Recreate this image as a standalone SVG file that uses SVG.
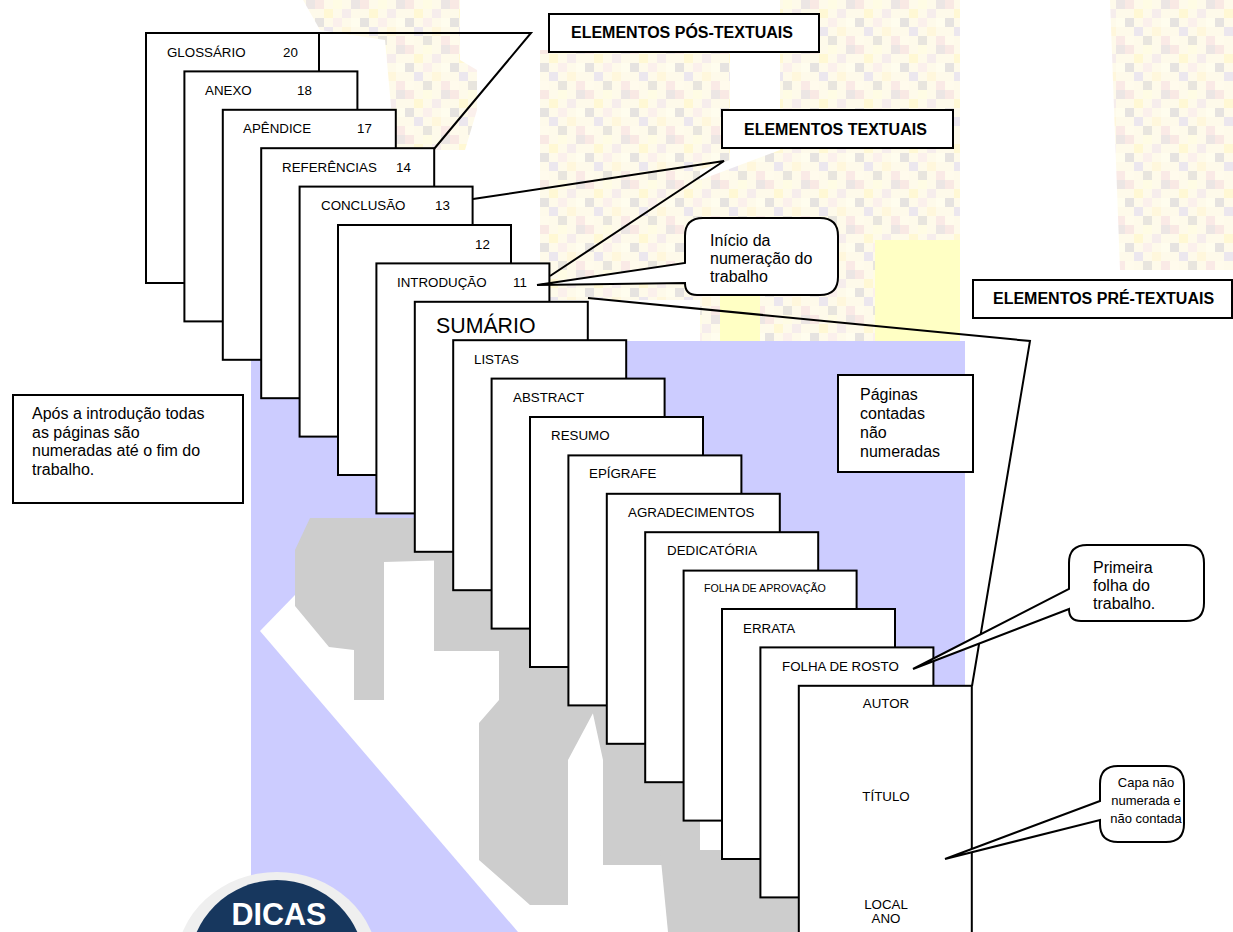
<svg xmlns="http://www.w3.org/2000/svg" width="1233" height="932" viewBox="0 0 1233 932">
<defs>
<style>
.pg{fill:#fff;stroke:#000;stroke-width:2}
.ln{fill:none;stroke:#000;stroke-width:2;stroke-linejoin:miter}
.box{fill:#fff;stroke:#000;stroke-width:2}
.gr{fill:#CDCDCD}
text{font-family:"Liberation Sans",Arial,sans-serif;fill:#000}
.t{font-size:13.33px}
.s{font-size:10.67px}
.b{font-size:21.33px}
.h{font-size:16px;font-weight:bold}
.c{font-size:16px}
.m{text-anchor:middle}
</style>
<pattern id="pix" width="45" height="45" patternUnits="userSpaceOnUse">
<rect width="45" height="45" fill="#FEFAEA"/>
<rect x="0" y="0" width="9" height="9" fill="#F9E9E4"/>
<rect x="18" y="0" width="9" height="9" fill="#FFFCE4"/>
<rect x="36" y="0" width="9" height="9" fill="#ECE6E4"/>
<rect x="9" y="9" width="9" height="9" fill="#FFF8D4"/>
<rect x="27" y="9" width="9" height="9" fill="#F6EDEC"/>
<rect x="0" y="18" width="9" height="9" fill="#E6E3E0"/>
<rect x="18" y="18" width="9" height="9" fill="#FBF0EC"/>
<rect x="36" y="18" width="9" height="9" fill="#FFFDEE"/>
<rect x="9" y="27" width="9" height="9" fill="#ECE7EE"/>
<rect x="27" y="27" width="9" height="9" fill="#FFF7DC"/>
<rect x="0" y="36" width="9" height="9" fill="#FFFBEC"/>
<rect x="18" y="36" width="9" height="9" fill="#E8E5DE"/>
<rect x="36" y="36" width="9" height="9" fill="#FAEAE6"/>
</pattern>
</defs>

<g id="background">
<path d="M303,0 H460 V60 L477,70 V110 L465,150 H395 L385,40 L320,30 Z" fill="url(#pix)"/>
<path d="M540,50 H730 V160 L700,170 V230 L720,300 H540 Z" fill="url(#pix)"/>
<path d="M780,0 H960 V345 H700 V180 L780,150 Z" fill="url(#pix)"/>
<path d="M1110,0 H1233 V270 H1120 Z" fill="url(#pix)"/>
<rect x="875" y="240" width="85" height="101" fill="#FFFFC4"/>
<rect x="720" y="295" width="40" height="46" fill="#FFFFC4"/>
<rect x="251" y="341" width="714" height="591" fill="#CCCCFF"/>
<path d="M260,631 L295,595 L440,530 L620,640 L820,932 H518 Z" fill="#fff"/>
<path class="gr" d="M295,550 L310,518 L453,518 L453,560 L384,562 V700 H354 V650 L329,647 L295,606 Z"/>
<path class="gr" d="M434,556 L470,540 L560,640 L600,700 L568,760 V905 H530 L479,860 V723 L499,700 V651 H434 Z"/>
<path class="gr" d="M590,700 H700 V865 H603 V760 Z"/>
<path class="gr" d="M660,850 H800 V932 H668 Z"/>
</g>

<g id="dicas">
<ellipse cx="277" cy="965" rx="101" ry="93" fill="#EFEFEF"/>
<ellipse cx="277" cy="968" rx="88" ry="88" fill="#17375E"/>
<text x="279" y="925" font-size="30.5" font-weight="bold" style="fill:#fff" text-anchor="middle">DICAS</text>
</g>

<g id="connectors">
<polyline class="ln" points="319,33 531,33 434,149"/>
<polyline class="ln" points="473,199 724,161 550,276"/>
<polyline class="ln" points="588,298 1030,341 972,686"/>
</g>

<g id="page-glossario"><rect class="pg" x="146" y="33" width="173" height="250"/><text class="t" x="167" y="57">GLOSSÁRIO</text><text class="t" x="283" y="57">20</text></g>
<g id="page-anexo"><rect class="pg" x="184.4" y="71.4" width="173" height="250"/><text class="t" x="205" y="95">ANEXO</text><text class="t" x="297" y="95">18</text></g>
<g id="page-apendice"><rect class="pg" x="222.8" y="109.8" width="173" height="250"/><text class="t" x="243" y="133">APÊNDICE</text><text class="t" x="357" y="133">17</text></g>
<g id="page-referencias"><rect class="pg" x="261.2" y="148.2" width="173" height="250"/><text class="t" x="282" y="172">REFERÊNCIAS</text><text class="t" x="396" y="172">14</text></g>
<g id="page-conclusao"><rect class="pg" x="299.6" y="186.6" width="173" height="250"/><text class="t" x="321" y="210">CONCLUSÃO</text><text class="t" x="435" y="210">13</text></g>
<g id="page-12"><rect class="pg" x="338" y="225" width="173" height="250"/><text class="t" x="475" y="249">12</text></g>
<g id="page-introducao"><rect class="pg" x="376.4" y="263.4" width="173" height="250"/><text class="t" x="397" y="287">INTRODUÇÃO</text><text class="t" x="513" y="287">11</text></g>
<g id="page-sumario"><rect class="pg" x="414.8" y="301.8" width="173" height="250"/><text class="b" x="436" y="333">SUMÁRIO</text></g>
<g id="page-listas"><rect class="pg" x="453.2" y="340.2" width="173" height="250"/><text class="t" x="474" y="364">LISTAS</text></g>
<g id="page-abstract"><rect class="pg" x="491.6" y="378.6" width="173" height="250"/><text class="t" x="513" y="402">ABSTRACT</text></g>
<g id="page-resumo"><rect class="pg" x="530" y="417" width="173" height="250"/><text class="t" x="551" y="440">RESUMO</text></g>
<g id="page-epigrafe"><rect class="pg" x="568.4" y="455.4" width="173" height="250"/><text class="t" x="589" y="478">EPÍGRAFE</text></g>
<g id="page-agradecimentos"><rect class="pg" x="606.8" y="493.8" width="173" height="250"/><text class="t" x="628" y="517">AGRADECIMENTOS</text></g>
<g id="page-dedicatoria"><rect class="pg" x="645.2" y="532.2" width="173" height="250"/><text class="t" x="667" y="555">DEDICATÓRIA</text></g>
<g id="page-aprovacao"><rect class="pg" x="683.6" y="570.6" width="173" height="250"/><text class="s" x="704" y="592">FOLHA DE APROVAÇÃO</text></g>
<g id="page-errata"><rect class="pg" x="722" y="609" width="173" height="250"/><text class="t" x="743" y="633">ERRATA</text></g>
<g id="page-rosto"><rect class="pg" x="760.4" y="647.4" width="173" height="250"/><text class="t" x="782" y="671">FOLHA DE ROSTO</text></g>
<g id="page-capa"><rect class="pg" x="798.8" y="685.8" width="173" height="250"/><text class="t m" x="886" y="708">AUTOR</text><text class="t m" x="886" y="801">TÍTULO</text><text class="t m" x="886" y="909">LOCAL</text><text class="t m" x="886" y="923">ANO</text></g>

<g id="label-pos"><rect class="box" x="549" y="14" width="270" height="38"/><text class="h" x="571" y="38">ELEMENTOS PÓS-TEXTUAIS</text></g>
<g id="label-textuais"><rect class="box" x="722" y="110" width="231" height="38"/><text class="h" x="744" y="135">ELEMENTOS TEXTUAIS</text></g>
<g id="label-pre"><rect class="box" x="973" y="280" width="259" height="38"/><text class="h" x="993" y="304">ELEMENTOS PRÉ-TEXTUAIS</text></g>

<g id="note-apos"><rect class="box" x="13" y="395" width="230" height="108"/><text class="c" x="32" y="419">Após a introdução todas</text><text class="c" x="32" y="437.5">as páginas são</text><text class="c" x="32" y="456">numeradas até o fim do</text><text class="c" x="32" y="474.5">trabalho.</text></g>
<g id="note-paginas"><rect class="box" x="838" y="375" width="135" height="97"/><text class="c" x="860" y="400">Páginas</text><text class="c" x="860" y="419">contadas</text><text class="c" x="860" y="438">não</text><text class="c" x="860" y="457">numeradas</text></g>

<g id="bubble-inicio"><path class="box" d="M703,218 H820 Q838,218 838,236 V277 Q838,295 820,295 H697 Q685,295 685,283 L537,285 L685,263 V236 Q685,218 703,218 Z"/><text class="c" x="710" y="246">Início da</text><text class="c" x="710" y="264">numeração do</text><text class="c" x="710" y="282">trabalho</text></g>
<g id="bubble-primeira"><path class="box" d="M1087,545 H1186 Q1204,545 1204,563 V603 Q1204,621 1186,621 H1081 Q1069,621 1069,609 L913,669 L1069,589 V563 Q1069,545 1087,545 Z"/><text class="c" x="1093" y="573">Primeira</text><text class="c" x="1093" y="591">folha do</text><text class="c" x="1093" y="609">trabalho.</text></g>
<g id="bubble-capa"><path class="box" d="M1118,766 H1166 Q1184,766 1184,784 V824 Q1184,842 1166,842 H1118 Q1100,842 1100,824 V820 L945,859 L1100,801 V784 Q1100,766 1118,766 Z"/><text class="m" font-size="13" x="1146" y="787">Capa não</text><text class="m" font-size="13" x="1146" y="805">numerada e</text><text class="m" font-size="13" x="1146" y="823">não contada</text></g>
</svg>
